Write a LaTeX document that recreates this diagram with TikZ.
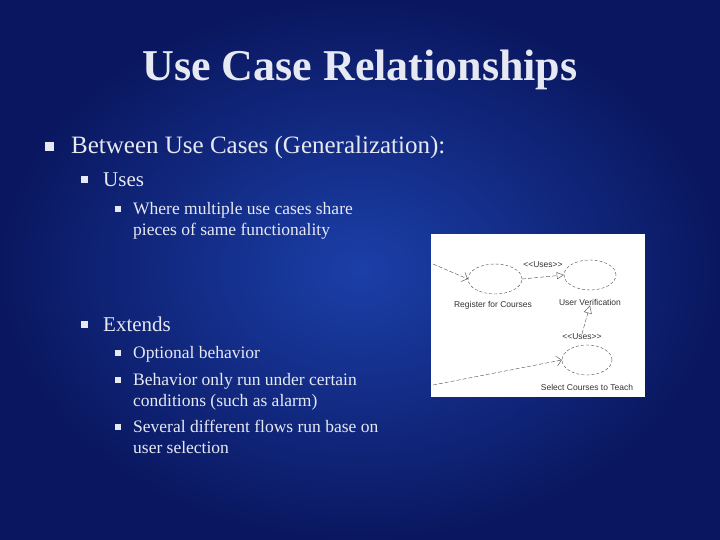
\documentclass[tikz,border=0pt]{standalone}
\usepackage{fontspec}
\setmainfont{Liberation Serif}
\newfontfamily\inset{Liberation Sans}
\usetikzlibrary{arrows.meta,shapes.geometric}
\definecolor{bgA}{HTML}{1B3FA8}
\definecolor{bgB}{HTML}{0A1760}
\definecolor{txt}{HTML}{E6E9F2}
\tikzset{
 bul/.style={fill=txt,minimum size=#1,inner sep=0pt},
 t1/.style={anchor=west,text=txt,font=\fontsize{25}{28}\selectfont,inner sep=0pt},
 t2/.style={anchor=west,text=txt,font=\fontsize{21}{24}\selectfont,inner sep=0pt},
 t3/.style={anchor=north west,text=txt,font=\fontsize{17.5}{21}\selectfont,inner sep=0pt,align=left},
 uc/.style={draw=black!70,dashed,dash pattern=on 3pt off 2pt,ellipse,minimum width=#1,minimum height=30pt,inner sep=0pt},
 lab/.style={font=\inset\fontsize{8.5}{10}\selectfont,text=black!80,inner sep=0pt},
 ln/.style={draw=black!70,dash pattern=on 4pt off 2pt},
 ttl/.style={font=\bfseries\fontsize{44}{48}\selectfont},
}
\begin{document}
\begin{tikzpicture}[x=1pt,y=-1pt]
\shade[inner color=bgA,outer color=bgB] (0,0) rectangle (720,540);
\useasboundingbox (0,0) rectangle (720,540);
\node (title) [text=txt,ttl] at (360,70) {Use Case Relationships};
\begin{scope}[on background layer/.style={}]
\end{scope}
\node[bul=9pt] (b1) at (49,147) {};
\node[t1] (l1) at (71,147) {Between Use Cases (Generalization):};
\node[bul=7pt] (b2) at (84,180) {};
\node[t2] (l2) at (103,180) {Uses};
\node[bul=6pt] (b3) at (118,209) {};
\node[t3] (l3) at (133,202) {Where multiple use cases share\\pieces of same functionality};
\node[bul=7pt] (b4) at (84,324) {};
\node[t2] (l4) at (103,324) {Extends};
\node[bul=6pt] (b5) at (118,353) {};
\node[t3] (l5) at (133,346) {Optional behavior};
\node[bul=6pt] (b6) at (118,380) {};
\node[t3] (l6) at (133,373) {Behavior only run under certain\\conditions (such as alarm)};
\node[bul=6pt] (b7) at (118,427) {};
\node[t3] (l7) at (133,420) {Several different flows run base on\\user selection};
% inset
\node[fill=white,minimum width=214pt,minimum height=163pt,inner sep=0pt,anchor=north west] (box) at (431,234) {};
\node[uc=54pt] (e1) at (495,279) {};
\node[uc=52pt] (e2) at (590,275) {};
\node[uc=50pt] (e3) at (587,360) {};
\node[lab] (n1) at (493,305) {Register for Courses};
\node[lab] (n2) at (590,302) {User Verification};
\node[lab] (n3) at (587,387) {Select Courses to Teach};
\node[lab] (u1) at (543,265) {<<Uses>>};
\node[lab] (u2) at (582,337) {<<Uses>>};
\coordinate (s1) at (433,264);
\coordinate (s2) at (433,385);
\draw[ln,-{Straight Barb[length=5pt]}] (s1) -- (e1.west);
\draw[ln,-{Straight Barb[length=5pt]}] (s2) -- (e3.west);
\draw[ln,-{Triangle[open,length=7pt,width=7pt]}] (e1.east) -- (e2.west);
\draw[ln,-{Triangle[open,length=8pt,width=8pt]}] (u2.north) -- (n2.south);
\end{tikzpicture}
\end{document}
